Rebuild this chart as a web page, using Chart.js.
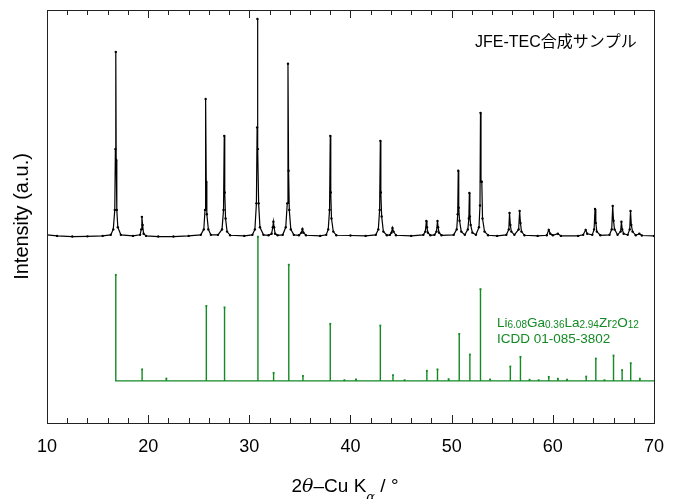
<!DOCTYPE html>
<html><head><meta charset="utf-8">
<script src="https://cdn.jsdelivr.net/npm/chart.js@4.4.0/dist/chart.umd.min.js"></script>
<style>html,body{margin:0;padding:0;background:#fff;}</style>
</head><body>
<canvas id="c" width="677" height="499"></canvas>
<script>
// ---- data (2θ in degrees, intensity in % of strongest sample peak) ----
const sampleTheta = [
 10.0,11.0,12.5,14.0,15.5,16.3,
 16.55,16.7,16.76,16.8,16.84,16.9,17.0,17.3, 18.5,
 19.2,19.32,19.38,19.45,19.55,19.8, 21.0,22.5,24.0,25.2,
 25.5,25.62,25.68,25.74,25.8,25.95,26.2, 26.9,
 27.3,27.45,27.52,27.57,27.65,27.8,28.1, 29.5,30.3,
 30.55,30.7,30.77,30.8,30.85,30.92,31.05,31.4, 31.9,
 32.2,32.32,32.38,32.45,32.55,32.8, 33.3,
 33.6,33.75,33.82,33.88,33.95,34.1,34.4, 34.9,
 35.15,35.25,35.35,35.6, 37.0,37.6,
 37.8,37.93,38.0,38.05,38.12,38.3,38.6, 40.0,41.5,42.5,
 42.75,42.88,42.95,43.0,43.08,43.25,43.6, 43.9,
 44.05,44.15,44.25,44.5, 46.0,47.2,
 47.4,47.5,47.56,47.65,47.9, 48.3,
 48.5,48.6,48.66,48.75,49.0, 50.2,
 50.5,50.6,50.65,50.7,50.78,50.95,51.3,
 51.6,51.7,51.75,51.8,51.88,52.05,52.4,
 52.7,52.8,52.85,52.9,52.98,53.05,53.25,53.6, 54.5,55.4,
 55.65,55.72,55.8,55.9,56.2,
 56.62,56.72,56.8,56.9,57.2, 58.5,59.4,
 59.6,59.75,60.0, 60.5,60.8, 62.5,63.0,
 63.25,63.4, 63.9,
 64.08,64.17,64.25,64.35,64.7, 65.6,
 65.82,65.92,66.0,66.1,66.4,
 66.7,66.78,66.86,67.0,67.4,
 67.6,67.68,67.76,67.88,68.2,
 68.55,68.8, 70.0
];
const sampleIntensity = [
 0.5,0,-0.3,-0.2,0,0.5,
 3,12,40,84.8,35,12,4,0.5, 0,
 0.5,3,8.8,5,1,0, -0.3,-0.3,0,0.5,
 3,12,63.1,25,10,3,0.5, 0.5,
 3,12,46.1,20,8,2,0.3, 0,0.5,
 3,15,50,100,40,15,4,0.5, 0.3,
 1,4,6.5,4,1,0.3, 0.5,
 4,15,79.3,30,12,3,0.5, 0.3,
 1.5,3.2,1.5,0.3, 0,0.5,
 3,12,46.1,20,8,2,0.3, 0.2,0,0.5,
 3,12,43.8,20,9,2,0.3, 0.5,
 1.5,3.7,2,0.3, 0,0.5,
 2,6.9,4,1.5,0.3, 0.5,
 2,6.9,4,1.5,0.3, 0.5,
 3,10,30,13,7,2,0.5,
 3,8,19.8,9,5,1.5,0.5,
 4,14,56.7,25,25,8,2,0.3, 0,0.5,
 3,10.6,5,2,0.5,
 3,11.5,6,2,0.3, 0,0.3,
 2.8,1,0.3, 1,0, 0,0.5,
 2.8,1, 0.5,
 3,12.4,6,2,0.3, 0.5,
 3,13.8,7,3,0.5,
 2,6.5,3,1,0.5,
 3,11.5,5,2,0.3,
 1,0.2, 0
];
// reference pattern (relative intensity, %)
const refTheta = [16.8,19.4,21.8,25.75,27.55,30.85,32.4,33.9,35.3,38.0,39.4,40.55,42.95,44.2,45.35,47.55,48.6,49.7,50.75,51.8,52.85,53.8,55.8,56.8,57.7,58.6,59.6,60.5,61.4,63.3,64.25,65.1,66.0,66.85,67.7,68.6];
const refIntensity = [73.6,8,1.6,52,51,100,5.6,80.6,3.5,39.6,0.5,1,38.4,4,0.5,7,8,1.2,32.6,18.3,63.7,1,10,16.7,0.8,0.5,2.8,1.5,0.8,3,15.5,0.5,17.6,7.5,12.3,1.5];
const xTickValues = [10,20,30,40,50,60,70];
const sampleName = 'JFE-TEC合成サンプル';
const refFormula = [['Li',0],['6.08',1],['Ga',0],['0.36',1],['La',0],['2.94',1],['Zr',0],['2',1],['O',0],['12',1]];
const refCard = 'ICDD 01-085-3802';
const yTitle = 'Intensity (a.u.)';

// layout constants for stacking the two patterns
const Y_MIN = -86.2, Y_MAX = 104.1;
const REF_BASE = -66.8, REF_SCALE = 0.664;
const X_MIN = 10, X_MAX = 70;
const GREEN = '#138a24';
const FONT = "'Liberation Sans', Arial, 'Noto Sans CJK JP', sans-serif";

const samplePts = sampleTheta.map((t,i)=>({x:t,y:sampleIntensity[i]}));
const refPts = [];
refTheta.forEach((t,i)=>{
  refPts.push({x:t,y:REF_BASE,top:false});
  refPts.push({x:t,y:REF_BASE+refIntensity[i]*REF_SCALE,top:true});
  refPts.push({x:t,y:REF_BASE,top:false});
});
refPts.push({x:X_MAX,y:REF_BASE,top:false});

Chart.defaults.font.family = FONT;
Chart.defaults.color = '#000';

const framePlugin = {
  id:'frame',
  afterDraw(chart){
    const ctx = chart.ctx, a = chart.chartArea, xs = chart.scales.x;
    ctx.save();
    ctx.strokeStyle = '#222'; ctx.lineWidth = 1;
    ctx.strokeRect(Math.round(a.left)+0.5, Math.round(a.top)+0.5, Math.round(a.right-a.left), Math.round(a.bottom-a.top));
    ctx.beginPath();
    for (let v = X_MIN; v <= X_MAX; v += 2) {
      const px = Math.round(xs.getPixelForValue(v))+0.5;
      const len = (v % 10 === 0) ? 8 : 5;
      ctx.moveTo(px, a.bottom); ctx.lineTo(px, a.bottom-len);
      ctx.moveTo(px, a.top); ctx.lineTo(px, a.top+len);
    }
    ctx.stroke();
    // sample name
    ctx.fillStyle = '#000';
    ctx.font = "16px " + FONT;
    ctx.textBaseline = 'alphabetic';
    ctx.textAlign = 'left';
    ctx.fillText(sampleName, 475, 47);
    // reference label
    ctx.fillStyle = GREEN;
    let x = 497;
    refFormula.forEach(([s,sub])=>{
      ctx.font = (sub ? "10px " : "13.5px ") + FONT;
      ctx.fillText(s, x, sub ? 328 : 327);
      x += ctx.measureText(s).width;
    });
    ctx.font = "13.5px " + FONT;
    ctx.fillText(refCard, 497, 343);
    // x title: 2θ–Cu Kα / °
    ctx.fillStyle = '#000';
    const parts = [
      ['2', "19px " + FONT, 0],
      ['\u03B8', "italic 19px 'DejaVu Serif', 'Liberation Serif', serif", 0],
      ['\u2013Cu K', "19px " + FONT, 0],
      ['\u03B1', "italic 13px 'DejaVu Serif', 'Liberation Serif', serif", 9],
      [' / \u00B0', "19px " + FONT, 0]
    ];
    let w = 0;
    parts.forEach(p=>{ctx.font=p[1]; w += ctx.measureText(p[0]).width;});
    x = 345 - w/2;
    parts.forEach(p=>{ctx.font=p[1]; ctx.fillText(p[0], x, 492+p[2]); x += ctx.measureText(p[0]).width;});
    ctx.restore();
  }
};

new Chart(document.getElementById('c'), {
  type:'line',
  data:{datasets:[
    {label:'sample', data:samplePts, borderColor:'#000', backgroundColor:'#000', borderWidth:1.2,
     pointRadius:1.2, pointBorderWidth:0, tension:0, order:0},
    {label:'reference', data:refPts, borderColor:GREEN, backgroundColor:GREEN, borderWidth:1.4,
     pointRadius:(c)=> (c.raw && c.raw.top) ? 1.3 : 0, pointStyle:'rect', pointBorderWidth:0, tension:0, order:1}
  ]},
  options:{
    responsive:false, animation:false, parsing:true,
    layout:{padding:{top:10,right:19,left:0,bottom:0}},
    plugins:{legend:{display:false}, tooltip:{enabled:false}, title:{display:false}},
    scales:{
      x:{type:'linear', min:X_MIN, max:X_MAX,
         afterBuildTicks:(s)=>{s.ticks = xTickValues.map(v=>({value:v}));},
         ticks:{font:{size:18}, padding:13, maxRotation:0, autoSkip:false, color:'#000'},
         grid:{display:false, drawTicks:false}, border:{display:false},
         afterFit:(s)=>{s.height = 76;}},
      y:{type:'linear', min:Y_MIN, max:Y_MAX,
         ticks:{display:false}, grid:{display:false, drawTicks:false}, border:{display:false},
         title:{display:true, text:yTitle, font:{size:20}, color:'#000', padding:{top:10,bottom:0}},
         afterFit:(s)=>{s.width = 47;}}
    }
  },
  plugins:[framePlugin]
});
</script>
</body></html>
